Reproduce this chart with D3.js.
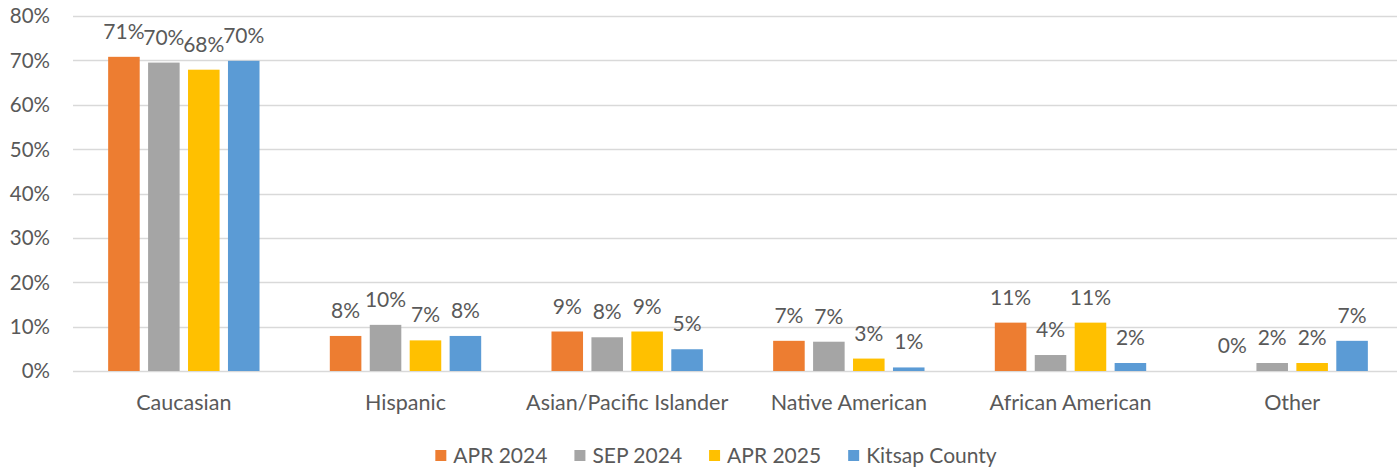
<!DOCTYPE html>
<html>
<head>
<meta charset="utf-8">
<script src="https://cdn.jsdelivr.net/npm/d3@7"></script>
<style>
  body { margin: 0; background: #fff; }
  text { font-family: Lato, "Open Sans", sans-serif; fill: #595959; }
</style>
</head>
<body>
<div id="chart"></div>
<script>
////////////////////////////////////////////////////////////
//////////////////////// Data //////////////////////////////
////////////////////////////////////////////////////////////

var categories = ["Caucasian", "Hispanic", "Asian/Pacific Islander", "Native American", "African American", "Other"];
var seriesNames = ["APR 2024", "SEP 2024", "APR 2025", "Kitsap County"];
var apr2024 = [70.8, 7.9, 8.9, 6.8, 10.9, 0.0];
var sep2024 = [69.5, 10.4, 7.6, 6.6, 3.6, 1.8];
var apr2025 = [67.9, 6.9, 8.9, 2.8, 10.9, 1.8];
var kitsap  = [69.9, 7.9, 4.9, 0.8, 1.8, 6.8];
var yTicks = [0, 10, 20, 30, 40, 50, 60, 70, 80];
var colors = ["#ED7D31", "#A5A5A5", "#FFC000", "#5B9BD5"];

var seriesValues = [apr2024, sep2024, apr2025, kitsap];

////////////////////////////////////////////////////////////
//////////////////////// Set-Up ////////////////////////////
////////////////////////////////////////////////////////////

var width = 1397, height = 467;
var margin = {left: 73, top: 16, right: -6, bottom: 96};
var plotW = width - margin.left - margin.right,
    plotH = height - margin.top - margin.bottom;

var svg = d3.select("#chart").append("svg")
  .attr("width", width)
  .attr("height", height);

var g = svg.append("g")
  .attr("transform", "translate(" + margin.left + "," + margin.top + ")");

var x0 = d3.scaleBand()
  .domain(categories)
  .range([0, plotW]);

var x1 = d3.scaleBand()
  .domain(d3.range(seriesNames.length))
  .range([0, x0.bandwidth()])
  .paddingInner(0.21)
  .paddingOuter(0.88);

var y = d3.scaleLinear()
  .domain([0, 80])
  .range([plotH, 0]);

////////////////////////////////////////////////////////////
//////////////////// Gridlines & axes //////////////////////
////////////////////////////////////////////////////////////

g.selectAll("line.grid")
  .data(yTicks)
  .enter().append("line")
  .attr("class", "grid")
  .attr("x1", 0)
  .attr("x2", plotW)
  .attr("y1", function(d) { return Math.round(y(d)) + 0.5; })
  .attr("y2", function(d) { return Math.round(y(d)) + 0.5; })
  .style("stroke", "#d9d9d9")
  .style("stroke-width", 1.5);

g.selectAll("text.ytick")
  .data(yTicks)
  .enter().append("text")
  .attr("class", "ytick")
  .attr("x", -23)
  .attr("y", function(d) { return y(d); })
  .attr("dy", "0.36em")
  .style("text-anchor", "end")
  .style("font-size", "20.5px")
  .text(function(d) { return d + "%"; });

g.selectAll("text.xtick")
  .data(categories)
  .enter().append("text")
  .attr("class", "xtick")
  .attr("x", function(d) { return x0(d) + x0.bandwidth() / 2; })
  .attr("y", plotH + 39)
  .style("text-anchor", "middle")
  .style("font-size", "21.5px")
  .text(function(d) { return d; });

////////////////////////////////////////////////////////////
//////////////////////// Bars //////////////////////////////
////////////////////////////////////////////////////////////

var cells = [];
categories.forEach(function(c, ci) {
  seriesValues.forEach(function(vals, si) {
    cells.push({cat: c, s: si, v: vals[ci]});
  });
});

g.selectAll("rect.bar")
  .data(cells)
  .enter().append("rect")
  .attr("class", "bar")
  .attr("x", function(d) { return x0(d.cat) + x1(d.s); })
  .attr("width", x1.bandwidth())
  .attr("y", function(d) { return y(d.v); })
  .attr("height", function(d) { return y(0) - y(d.v); })
  .style("fill", function(d) { return colors[d.s]; });

g.selectAll("text.label")
  .data(cells)
  .enter().append("text")
  .attr("class", "label")
  .attr("x", function(d) { return x0(d.cat) + x1(d.s) + x1.bandwidth() / 2; })
  .attr("y", function(d) { return y(d.v) - 18; })
  .style("text-anchor", "middle")
  .style("font-size", "21px")
  .text(function(d) { return Math.round(d.v) + "%"; });

////////////////////////////////////////////////////////////
//////////////////////// Legend ////////////////////////////
////////////////////////////////////////////////////////////

var legend = svg.append("g").attr("class", "legend");
var lx = 0;
seriesNames.forEach(function(name, i) {
  var item = legend.append("g").attr("transform", "translate(" + lx + ",0)");
  item.append("rect")
    .attr("x", 0).attr("y", -5)
    .attr("width", 11).attr("height", 11)
    .style("fill", colors[i]);
  var t = item.append("text")
    .attr("x", 18).attr("y", 0)
    .attr("dy", "0.36em")
    .style("font-size", "21px")
    .text(name);
  lx += 18 + t.node().getComputedTextLength() + 27;
});
lx -= 27;
legend.attr("transform", "translate(" + (716 - lx / 2) + ",455)");
</script>
</body>
</html>
